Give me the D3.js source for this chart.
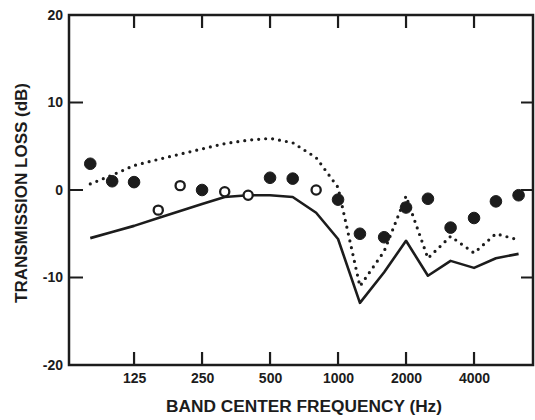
<!DOCTYPE html>
<html>
<head>
<meta charset="utf-8">
<script src="https://cdn.jsdelivr.net/npm/d3@7"></script>
<style>
  body { margin: 0; background: #fff; }
  svg text { font-family: "Liberation Sans", Arial, sans-serif; font-weight: bold; fill: #1c1c1c; }
</style>
</head>
<body>
<div id="chart-area"></div>
<script>
// one-third octave band centres (Hz)
const bands = [80, 100, 125, 160, 200, 250, 315, 400, 500, 630, 800, 1000,
  1250, 1600, 2000, 2500, 3150, 4000, 5000, 6300];
// solid curve (dB)
const solidLoss = [-5.5, -4.8, -4.1, -3.2, -2.4, -1.6, -0.8, -0.6, -0.6, -0.8, -2.6, -5.6,
  -12.9, -9.4, -5.8, -9.8, -8.1, -8.9, -7.8, -7.3];
// dotted curve (dB)
const dottedLoss = [0.7, 1.7, 2.8, 3.5, 4.1, 4.7, 5.3, 5.7, 5.9, 5.4, 3.7, 0.3,
  -11.0, -7.0, -0.7, -7.8, -5.3, -7.2, -5.0, -5.7];
// measured points (dB); 'o' open, 'f' filled
const pointLoss = [3.0, 1.0, 0.9, -2.3, 0.5, 0.0, -0.2, -0.6, 1.4, 1.3, 0.0, -1.1,
  -5.0, -5.4, -2.0, -1.0, -4.3, -3.2, -1.3, -0.6];
const pointKind = ['f', 'f', 'f', 'o', 'o', 'f', 'o', 'o', 'f', 'f', 'o', 'f',
  'f', 'f', 'f', 'f', 'f', 'f', 'f', 'f'];
const xTicks = [125, 250, 500, 1000, 2000, 4000];
const yTicks = [20, 10, 0, -10, -20];
const yInnerTicks = [10, 0, -10];

const ink = '#1c1c1c';
const width = 535, height = 420;
const plot = {left: 69, right: 533, top: 15, bottom: 365};

const svg = d3.select('#chart-area').append('svg')
  .attr('width', width)
  .attr('height', height);

const x = d3.scaleLog()
  .base(2)
  .domain([64.4, 7297])
  .range([plot.left, plot.right]);

const y = d3.scaleLinear()
  .domain([-20, 20])
  .range([plot.bottom, plot.top]);

// tick labels from the axes
const bottomAxis = svg.append('g')
  .attr('transform', `translate(0, ${plot.bottom})`)
  .call(d3.axisBottom(x).tickValues(xTicks).tickFormat(d => d)
    .tickSize(0).tickPadding(8));

const leftAxis = svg.append('g')
  .attr('transform', `translate(${plot.left}, 0)`)
  .call(d3.axisLeft(y).tickValues(yTicks).tickFormat(d => d)
    .tickSize(0).tickPadding(6));

[bottomAxis, leftAxis].forEach(g => {
  g.select('.domain').remove();
  g.selectAll('text')
    .attr('font-size', '14px')
    .attr('font-family', '"Liberation Sans", Arial, sans-serif')
    .attr('font-weight', 'bold')
    .attr('fill', ink);
});

// inward tick marks
const tickPath = d3.path();
xTicks.forEach(d => {
  tickPath.moveTo(x(d), plot.bottom);
  tickPath.lineTo(x(d), plot.bottom - 13);
  tickPath.moveTo(x(d), plot.top);
  tickPath.lineTo(x(d), plot.top + 13);
});
yInnerTicks.forEach(d => {
  tickPath.moveTo(plot.left, y(d));
  tickPath.lineTo(plot.left + 14, y(d));
  tickPath.moveTo(plot.right, y(d));
  tickPath.lineTo(plot.right - 12, y(d));
});

svg.append('path')
  .attr('d', tickPath.toString())
  .attr('fill', 'none')
  .attr('stroke', ink)
  .attr('stroke-width', 2.2);

// frame
svg.append('rect')
  .attr('x', plot.left)
  .attr('y', plot.top)
  .attr('width', plot.right - plot.left)
  .attr('height', plot.bottom - plot.top)
  .attr('fill', 'none')
  .attr('stroke', ink)
  .attr('stroke-width', 2.5);

const curve = d3.line()
  .x((d, i) => x(bands[i]))
  .y(d => y(d));

svg.append('path')
  .datum(solidLoss)
  .attr('d', curve)
  .attr('fill', 'none')
  .attr('stroke', ink)
  .attr('stroke-width', 2.6)
  .attr('stroke-linejoin', 'round');

svg.append('path')
  .datum(dottedLoss)
  .attr('d', curve)
  .attr('fill', 'none')
  .attr('stroke', ink)
  .attr('stroke-width', 3.2)
  .attr('stroke-linecap', 'round')
  .attr('stroke-dasharray', '0 7');

const points = bands.map((f, i) => ({f, v: pointLoss[i], kind: pointKind[i]}));

svg.selectAll('circle.pt')
  .data(points)
  .enter()
  .append('circle')
  .attr('class', 'pt')
  .attr('cx', d => x(d.f))
  .attr('cy', d => y(d.v))
  .attr('r', d => d.kind === 'f' ? 5.8 : 4.6)
  .attr('fill', d => d.kind === 'f' ? ink : '#fff')
  .attr('stroke', ink)
  .attr('stroke-width', d => d.kind === 'f' ? 1 : 2.3);

// axis titles
svg.append('text')
  .attr('x', 304)
  .attr('y', 412)
  .attr('text-anchor', 'middle')
  .attr('font-size', '16px')
  .attr('textLength', 276)
  .attr('lengthAdjust', 'spacingAndGlyphs')
  .text('BAND CENTER FREQUENCY (Hz)');

svg.append('text')
  .attr('transform', `translate(27, 193) rotate(-90)`)
  .attr('text-anchor', 'middle')
  .attr('font-size', '16px')
  .attr('textLength', 220)
  .attr('lengthAdjust', 'spacingAndGlyphs')
  .text('TRANSMISSION LOSS (dB)');
</script>
</body>
</html>
